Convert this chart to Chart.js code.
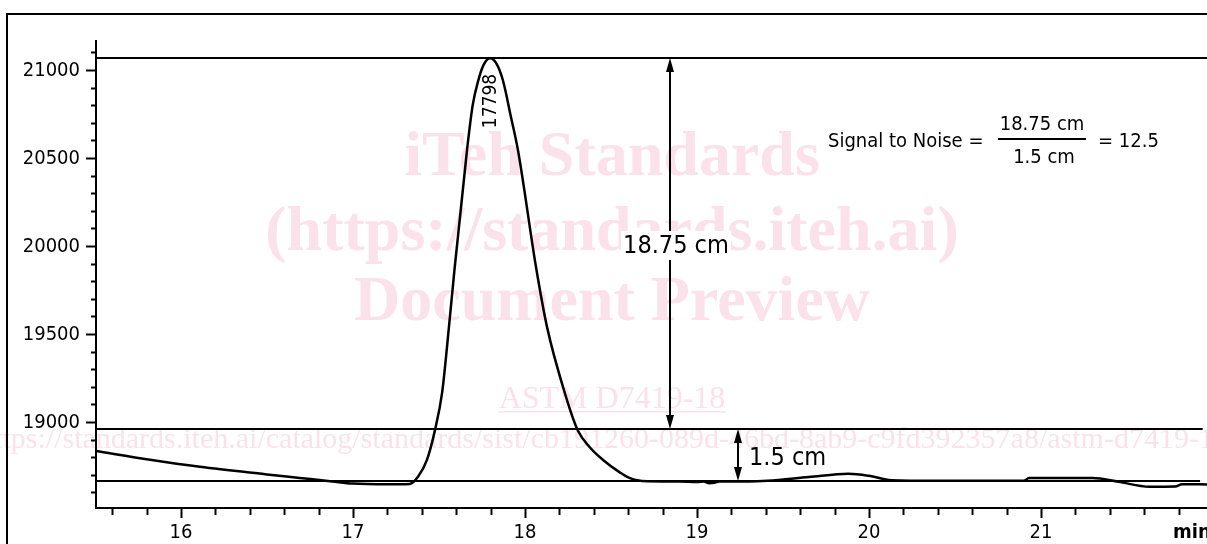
<!DOCTYPE html>
<html>
<head>
<meta charset="utf-8">
<script src="https://cdn.jsdelivr.net/npm/chart.js@4"></script>
<style>
  body { margin: 0; background: #fff; }
  #chart { display: block; }
</style>
</head>
<body>
<canvas id="chart" width="1207" height="544"></canvas>
<script>
// chromatogram trace (min, counts)
const times = [15.506, 15.82, 16.11, 16.50, 16.69, 16.88, 17.00, 17.20, 17.33, 17.378, 17.43, 17.477, 17.518,
  17.558, 17.59, 17.663, 17.696, 17.727, 17.76, 17.797, 17.835, 17.872, 17.919, 17.959,
  18.064, 18.128, 18.233, 18.308, 18.378, 18.454, 18.553, 18.60, 18.68, 18.90, 19.00, 19.04, 19.07, 19.10,
  19.13, 19.30, 19.41, 19.65, 19.88, 20.00, 20.13, 20.40, 20.90, 20.93, 21.30, 21.45, 21.63, 21.78, 21.82, 21.965];
const signal = [18835, 18785, 18745, 18702, 18682, 18662, 18650, 18646, 18648, 18688, 18784, 18955, 19165,
  19540, 19864, 20545, 20800, 20935, 21030, 21066, 21035, 20940, 20730, 20545,
  19880, 19540, 19160, 18950, 18855, 18784, 18712, 18685, 18665, 18662, 18659, 18662, 18652, 18654,
  18662, 18662, 18666, 18687, 18706, 18694, 18669, 18666, 18666, 18681, 18681, 18660, 18632, 18633, 18646, 18645];

// reference lines: peak top, noise upper, baseline
const refLevels = [21068, 18960, 18664];
const refEnds = [21.965, 21.94, 21.925];

const xTicks = [16, 17, 18, 19, 20, 21];
const yTicks = [19000, 19500, 20000, 20500, 21000];
const xRange = [15.506, 21.965];
const yRange = [18511, 21170];

const peakTime = 17.797;
const peakLabel = '17798';
const signalArrowX = 18.843;
const noiseArrowX = 19.239;

const FONT = '"DejaVu Sans Condensed", "DejaVu Sans", sans-serif';

function drawArrow(ctx, x, yTop, yBot) {
  ctx.beginPath();
  ctx.moveTo(x, yTop + 10);
  ctx.lineTo(x, yBot - 10);
  ctx.lineWidth = 2;
  ctx.strokeStyle = '#000';
  ctx.stroke();
  ctx.fillStyle = '#000';
  ctx.beginPath();
  ctx.moveTo(x, yTop);
  ctx.lineTo(x - 4, yTop + 14);
  ctx.lineTo(x + 4, yTop + 14);
  ctx.closePath();
  ctx.fill();
  ctx.beginPath();
  ctx.moveTo(x, yBot);
  ctx.lineTo(x - 4, yBot - 14);
  ctx.lineTo(x + 4, yBot - 14);
  ctx.closePath();
  ctx.fill();
}

const decor = {
  id: 'decor',
  beforeDraw(chart) {
    const ctx = chart.ctx;
    ctx.save();
    ctx.fillStyle = '#fff';
    ctx.fillRect(0, 0, chart.width, chart.height);
    // watermark
    ctx.fillStyle = '#fbe2ea';
    ctx.textAlign = 'center';
    ctx.textBaseline = 'alphabetic';
    ctx.font = 'bold 64px "Liberation Serif", serif';
    ctx.fillText('iTeh Standards', 612, 175);
    ctx.fillText('(https://standards.iteh.ai)', 612, 250);
    ctx.fillText('Document Preview', 612, 320);
    ctx.font = '32px "Liberation Serif", serif';
    ctx.fillText('ASTM D7419-18', 612, 408);
    const w = ctx.measureText('ASTM D7419-18').width;
    ctx.fillRect(612 - w / 2, 411, w, 1.5);
    ctx.font = '30px "Liberation Serif", serif';
    ctx.fillText('https://standards.iteh.ai/catalog/standards/sist/cb191260-089d-46bd-8ab9-c9fd392357a8/astm-d7419-18', 604, 448);
    ctx.restore();
  },
  afterDatasetsDraw(chart) {
    const ctx = chart.ctx;
    const xs = chart.scales.x, ys = chart.scales.y;
    const a = chart.chartArea;
    ctx.save();
    ctx.strokeStyle = '#000';
    ctx.fillStyle = '#000';
    // outer frame
    ctx.lineWidth = 2;
    ctx.strokeRect(7, 14, 1300, 600);
    // axes
    ctx.beginPath();
    ctx.moveTo(a.left, a.top);
    ctx.lineTo(a.left, a.bottom);
    ctx.lineTo(a.right, a.bottom);
    ctx.stroke();
    // y ticks
    for (let v = 18600; v <= 21100; v += 100) {
      const y = Math.round(ys.getPixelForValue(v)) + 0.5;
      const major = yTicks.includes(v);
      ctx.beginPath();
      ctx.moveTo(a.left - (major ? 10 : 5), y);
      ctx.lineTo(a.left, y);
      ctx.stroke();
    }
    // x ticks
    for (let i = 78; i <= 109; i++) {
      const v = i / 5;
      const x = Math.round(xs.getPixelForValue(v)) + 0.5;
      const major = i % 5 === 0;
      ctx.beginPath();
      ctx.moveTo(x, a.bottom);
      ctx.lineTo(x, a.bottom + (major ? 10 : 7));
      ctx.stroke();
    }
    ctx.font = '20px ' + FONT;
    ctx.textAlign = 'right';
    ctx.textBaseline = 'middle';
    yTicks.forEach(v => ctx.fillText(String(v), a.left - 16, ys.getPixelForValue(v) + 1));
    ctx.textAlign = 'center';
    ctx.textBaseline = 'alphabetic';
    xTicks.forEach(v => ctx.fillText(String(v), xs.getPixelForValue(v), 538));
    ctx.font = 'bold 20px ' + FONT;
    ctx.textAlign = 'left';
    ctx.fillText('min', 1173, 538);

    // peak label
    const px = xs.getPixelForValue(peakTime);
    const pyTop = ys.getPixelForValue(refLevels[0]);
    ctx.save();
    ctx.translate(px + 1, pyTop + 43);
    ctx.rotate(-Math.PI / 2);
    ctx.font = '19px ' + FONT;
    ctx.textAlign = 'center';
    ctx.textBaseline = 'middle';
    ctx.fillText(peakLabel, 0, 0);
    ctx.restore();

    // arrows
    const yPeak = ys.getPixelForValue(refLevels[0]);
    const yNoise = ys.getPixelForValue(refLevels[1]);
    const yBase = ys.getPixelForValue(refLevels[2]);
    const ax1 = Math.round(xs.getPixelForValue(signalArrowX));
    const ax2 = Math.round(xs.getPixelForValue(noiseArrowX));
    drawArrow(ctx, ax1, yPeak, yNoise);
    drawArrow(ctx, ax2, yNoise, yBase);

    ctx.font = '25px ' + FONT;
    ctx.textBaseline = 'middle';
    ctx.textAlign = 'center';
    const lab = '18.75 cm';
    const lw = ctx.measureText(lab).width;
    ctx.fillStyle = '#fff';
    ctx.fillRect(ax1 + 6 - lw / 2 - 2, 231, lw + 4, 29);
    ctx.fillStyle = '#000';
    ctx.fillText(lab, ax1 + 6, 246);
    ctx.textAlign = 'left';
    ctx.fillText('1.5 cm', ax2 + 11, 458);

    // signal to noise formula
    ctx.font = '20px ' + FONT;
    ctx.textBaseline = 'alphabetic';
    ctx.textAlign = 'left';
    ctx.fillText('Signal to Noise =', 828, 147);
    ctx.textAlign = 'center';
    ctx.fillText('18.75 cm', 1042, 130);
    ctx.fillText('1.5 cm', 1044, 163);
    ctx.fillRect(998, 138, 88, 2);
    ctx.textAlign = 'left';
    ctx.fillText('= 12.5', 1098, 147);
    ctx.restore();
  }
};

const refSets = refLevels.map((lv, i) => ({
  data: [{ x: xRange[0], y: lv }, { x: refEnds[i], y: lv }],
  borderColor: '#000',
  borderWidth: 2,
  pointRadius: 0,
  tension: 0
}));

new Chart(document.getElementById('chart'), {
  type: 'line',
  data: {
    datasets: [{
      data: times.map((t, i) => ({ x: t, y: signal[i] })),
      borderColor: '#000',
      borderWidth: 2.5,
      pointRadius: 0,
      cubicInterpolationMode: 'monotone'
    }, ...refSets]
  },
  options: {
    responsive: false,
    animation: false,
    devicePixelRatio: 1,
    layout: { padding: { left: 96, top: 40, right: 0, bottom: 36 } },
    plugins: { legend: { display: false }, tooltip: { enabled: false } },
    scales: {
      x: { type: 'linear', min: xRange[0], max: xRange[1], display: false },
      y: { type: 'linear', min: yRange[0], max: yRange[1], display: false }
    }
  },
  plugins: [decor]
});
</script>
</body>
</html>
